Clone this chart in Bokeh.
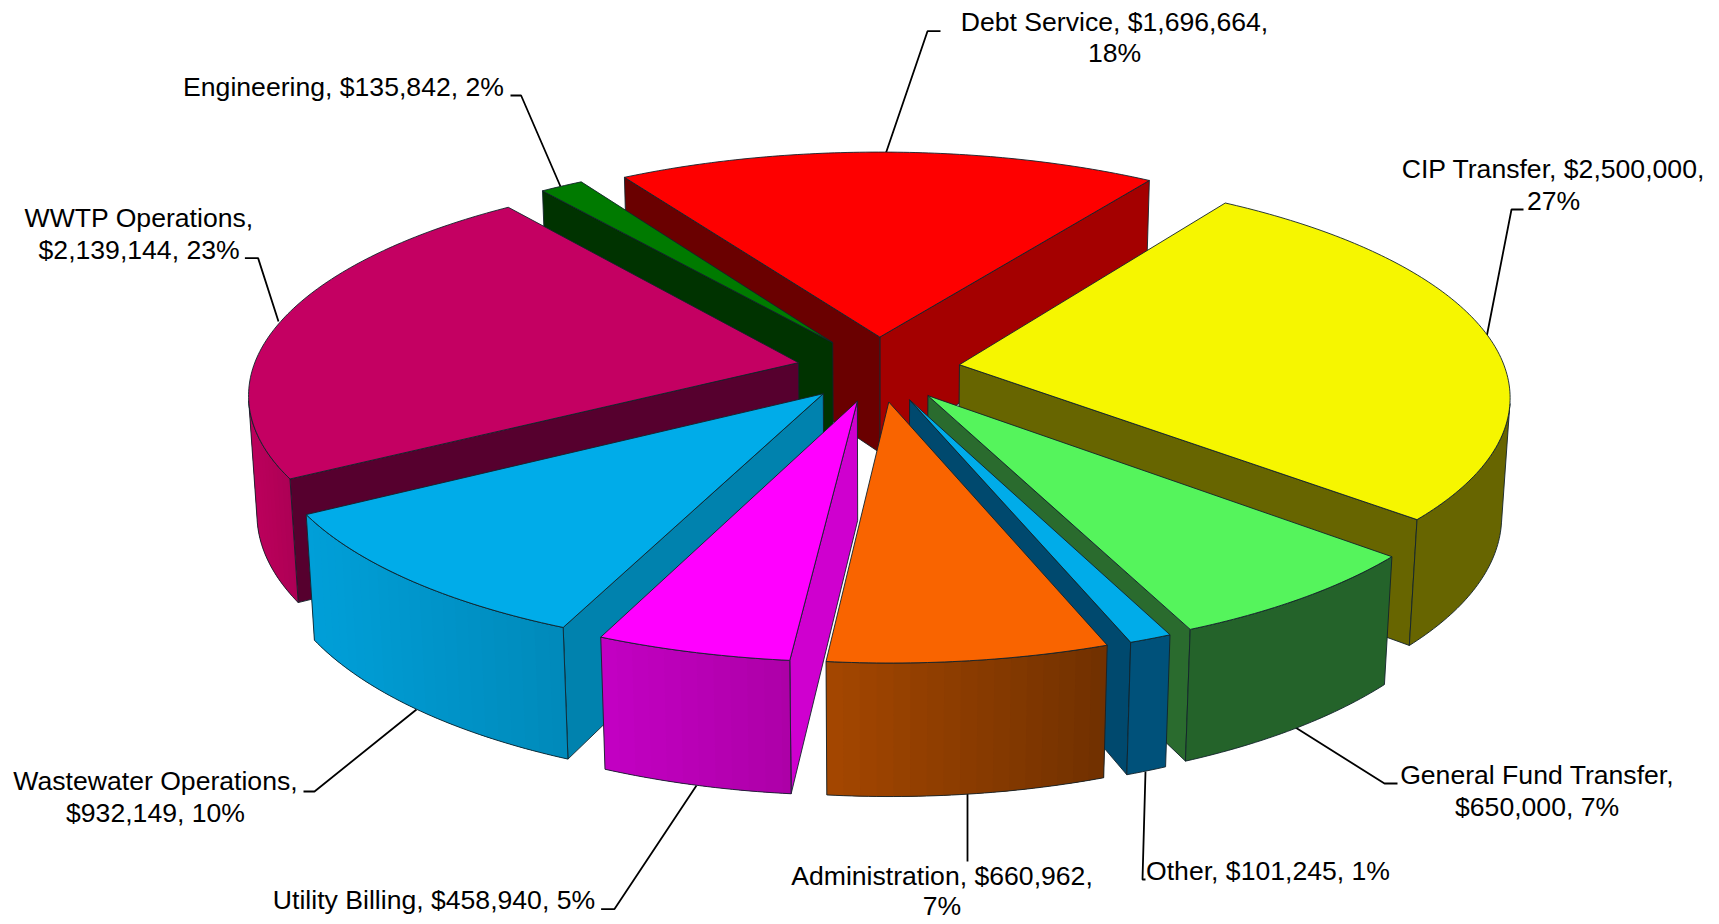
import math
from bokeh.plotting import figure
from bokeh.models import ColumnDataSource, Range1d
from bokeh.core.properties import value
from bokeh.embed import file_html
from bokeh.resources import INLINE

# ---- data ----
categories = ["CIP Transfer", "General Fund Transfer", "Other", "Administration", "Utility Billing",
              "Wastewater Operations", "WWTP Operations", "Engineering", "Debt Service"]
amounts = [2500000, 650000, 101245, 660962, 458940, 932149, 2139144, 135842, 1696664]
percents = [27, 7, 1, 7, 5, 10, 23, 2, 18]
label_lines = [
    ["CIP Transfer, $2,500,000,", "27%"],
    ["General Fund Transfer,", "$650,000, 7%"],
    ["Other, $101,245, 1%"],
    ["Administration, $660,962,", "7%"],
    ["Utility Billing, $458,940, 5%"],
    ["Wastewater Operations,", "$932,149, 10%"],
    ["WWTP Operations,", "$2,139,144, 23%"],
    ["Engineering, $135,842, 2%"],
    ["Debt Service, $1,696,664,", "18%"],
]

# ---- style ----
top_colors = ["#F6F600", "#55F45C", "#00ACE9", "#F96400", "#FF00FF", "#00ACE9", "#C40062", "#007A00", "#FE0000"]
wall_left = ["#676500", "#24632A", "#00517A", "#A34600", "#C200C2", "#009FD8", "#BC005C", "#003300", "#A40000"]
wall_right = ["#676500", "#24632A", "#00517A", "#6F3000", "#AC00A6", "#0089B9", "#AC0054", "#003300", "#A40000"]
side_lo = ["#676500", "#2A6B2E", "#00496E", "#A34600", "#CF00CF", "#0082AE", "#56002E", "#003300", "#A40000"]
side_hi = ["#676500", "#2A6B2E", "#00496E", "#A34600", "#CF00CF", "#0082AE", "#56002E", "#003300", "#6A0000"]

# ---- projection of the exploded, perspective pie ----
CX, CY, RX, RY, PERSP, DEPTH, DEPTH_P = 878.0, 368.5, 545.8, 217.2, 0.1317, 119.0, 0.0133
EXPLODE, START = 0.15, 56.1


def project(x, y, z):
    w = 1 + PERSP * y + DEPTH_P * z
    return CX + RX * x / w, CY + (-RY * y + DEPTH * z) / w


def area(q):
    return sum(q[i][0] * q[(i + 1) % len(q)][1] - q[(i + 1) % len(q)][0] * q[i][1] for i in range(len(q)))


def mix(c1, c2, t):
    a = [int(c1[i:i + 2], 16) for i in (1, 3, 5)]
    b = [int(c2[i:i + 2], 16) for i in (1, 3, 5)]
    return "#%02x%02x%02x" % tuple(round(a[i] + (b[i] - a[i]) * t) for i in range(3))


total = sum(amounts)
slices = []
ang = START
for i, amt in enumerate(amounts):
    sweep = 360.0 * amt / total
    hi, lo = ang, ang - sweep
    ang = lo
    mid = math.radians((hi + lo) / 2)
    ax, ay = EXPLODE * math.cos(mid), EXPLODE * math.sin(mid)
    slices.append((ay, i, lo, hi, ax))
slices.sort(key=lambda s: -s[0])

xs, ys, fills, lines, falpha, lwidth = [], [], [], [], [], []


def add(poly, fill, line, fa=1.0, lw=0.9):
    xs.append([p[0] for p in poly])
    ys.append([p[1] for p in poly])
    fills.append(fill)
    lines.append(line)
    falpha.append(fa)
    lwidth.append(lw)


EDGE = "#12222a"
for ay, i, lo, hi, ax in slices:
    n = max(2, int((hi - lo) / 0.75))
    angs = [math.radians(lo + (hi - lo) * k / n) for k in range(n + 1)]
    rim = [(ax + math.cos(a), ay + math.sin(a)) for a in angs]
    apex = (ax, ay)
    T = lambda p: project(p[0], p[1], 0)
    B = lambda p: project(p[0], p[1], 1)
    # radial faces
    for u, v, col in ((apex, rim[0], side_lo[i]), (rim[-1], apex, side_hi[i])):
        q = [T(u), T(v), B(v), B(u)]
        if area(q) > 0:
            add(q, col, EDGE)
    # outer wall: one polygon, then overlapping gradient bands, then its outline
    vis = [k for k in range(n) if area([T(rim[k]), T(rim[k + 1]), B(rim[k + 1]), B(rim[k])]) > 0]
    if vis:
        first, last = vis[0], vis[-1] + 1
        outline = [T(rim[k]) for k in range(first, last + 1)] + [B(rim[k]) for k in range(last, first - 1, -1)]
        add(outline, mix(wall_left[i], wall_right[i], 0.5), None, 1.0, 0)
        if wall_left[i] != wall_right[i]:
            x0, x1 = T(rim[first])[0], T(rim[last])[0]
            step = 2
            for k in range(first, last, step):
                e = min(last, k + 2 * step)
                band = [T(rim[j]) for j in range(k, e + 1)] + [B(rim[j]) for j in range(e, k - 1, -1)]
                t = (T(rim[k])[0] - x0) / (x1 - x0)
                add(band, mix(wall_left[i], wall_right[i], t), None, 1.0, 0)
        add(outline, wall_left[i], EDGE, 0.0)
    # top
    add([T(apex)] + [T(r) for r in rim], top_colors[i], EDGE)

# ---- layout of labels and leader lines, in reference pixels ----
label_x = [1553, 1536.6, 1267.5, 941.5, 433.5, 155, 138.6, 343, 1114]
label_y = [(168, 200), (774, 806), (870,), (875, 905), (899,), (780.5, 812), (217, 249), (86,), (21, 52)]
leaders = [
    [(1486, 337), (1511, 209), (1523, 209)],
    [(1295, 727), (1384, 783), (1397, 783)],
    [(1145, 771), (1142, 879), (1145, 879)],
    [(967, 793), (967, 861)],
    [(696, 785), (614, 908.6), (600.6, 908.6)],
    [(416, 709), (314, 791), (303, 791)],
    [(278, 321), (257.6, 257.6), (244.4, 257.6)],
    [(560, 186), (520.6, 95), (510, 95)],
    [(885.6, 152), (927, 30.7), (940, 30.7)],
]

W, H = 1719, 924
p = figure(width=W, height=H, output_backend="svg", toolbar_location=None,
           x_range=Range1d(0, W), y_range=Range1d(H, 0), min_border=0)
p.axis.visible = False
p.grid.visible = False
p.outline_line_color = None

p.multi_line(xs=[[q[0] for q in l] for l in leaders], ys=[[q[1] for q in l] for l in leaders],
             line_color="#000000", line_width=1.8)
p.patches(xs="xs", ys="ys", fill_color="fill", line_color="line", fill_alpha="fa", line_width="lw",
          line_join="round",
          source=ColumnDataSource(dict(xs=xs, ys=ys, fill=fills, line=lines, fa=falpha, lw=lwidth)))

tx, ty, tt = [], [], []
for lx, lys, ls in zip(label_x, label_y, label_lines):
    for yy, s in zip(lys, ls):
        tx.append(lx)
        ty.append(yy)
        tt.append(s)
p.text(x="x", y="y", text="t", source=ColumnDataSource(dict(x=tx, y=ty, t=tt)),
       text_font=value("Liberation Sans"), text_font_size="26.6px", text_color="#000000",
       text_align="center", text_baseline="middle")

open("out.html", "w").write(file_html(p, INLINE))
